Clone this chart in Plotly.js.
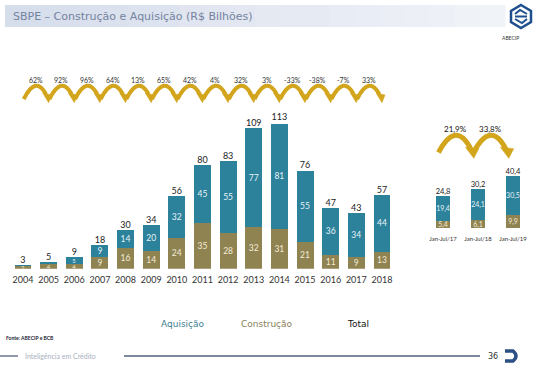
<!DOCTYPE html>
<html>
<head>
<meta charset="utf-8">
<script src="https://cdn.plot.ly/plotly-3.0.1.min.js"></script>
<style>html,body{margin:0;padding:0;background:#fff;}#chart{width:544px;height:369px;}</style>
</head>
<body>
<div id="chart"></div>
<script>
// ---- data ----
const years = [2004,2005,2006,2007,2008,2009,2010,2011,2012,2013,2014,2015,2016,2017,2018];
const aquisicao = [1,1,5,9,14,20,32,45,55,77,81,55,36,34,44];
const construcao = [2,4,4,9,16,14,24,35,28,32,31,21,11,9,13];
const totals = [3,5,9,18,30,34,56,80,83,109,113,76,47,43,57];
const growthLabels = ['62%','92%','96%','64%','13%','65%','42%','4%','32%','3%','-33%','-38%','-7%','33%'];

const ytdPeriods = ['Jan-Jul/17','Jan-Jul/18','Jan-Jul/19'];
const ytdAquisicao = [19.4,24.1,30.5];
const ytdConstrucao = [5.4,6.1,9.9];
const ytdTotals = [24.8,30.2,40.4];
const ytdGrowth = ['21,9%','33,8%'];

// ---- styles ----
const TEAL = '#2c819b';
const OLIVE = '#8f8352';
const GOLD = '#d2a51c';
const FONT = 'Lato, "Open Sans", sans-serif';
const fmt = v => v.toFixed(1).replace('.', ',');
const px = x => x / 544;
const py = y => 1 - y / 369;
const ytdIdx = ytdPeriods.map((_, i) => i);
const segSize = v => v < 6 ? 6 : 8.5;

const traces = [
  {type:'bar', x: years, y: construcao, name:'Construção', marker:{color:OLIVE}, width:0.66,
   text: construcao.map(String), textposition:'inside', insidetextanchor:'middle', constraintext:'none',
   textangle:0, textfont:{color:'#f3ecd6', size:construcao.map(segSize), family:FONT}, hoverinfo:'skip', xaxis:'x', yaxis:'y'},
  {type:'bar', x: years, y: aquisicao, name:'Aquisição', marker:{color:TEAL}, width:0.66,
   text: aquisicao.map(v => v >= 2 ? String(v) : ''), textposition:'inside', insidetextanchor:'middle', constraintext:'none',
   textangle:0, textfont:{color:'#e6f3f8', size:aquisicao.map(segSize), family:FONT}, hoverinfo:'skip', xaxis:'x', yaxis:'y'},
  {type:'scatter', mode:'text', x: years, y: totals, text: totals.map(String), textposition:'top center',
   textfont:{color:'#222', size:9, family:FONT}, hoverinfo:'skip', xaxis:'x', yaxis:'y'},
  {type:'bar', x: ytdIdx, y: ytdConstrucao, marker:{color:OLIVE}, width:0.42,
   text: ytdConstrucao.map(fmt), textposition:'inside', insidetextanchor:'middle', constraintext:'none',
   textangle:0, textfont:{color:'#f3ecd6', size:7, family:FONT}, hoverinfo:'skip', xaxis:'x2', yaxis:'y2'},
  {type:'bar', x: ytdIdx, y: ytdAquisicao, marker:{color:TEAL}, width:0.42,
   text: ytdAquisicao.map(fmt), textposition:'inside', insidetextanchor:'middle', constraintext:'none',
   textangle:0, textfont:{color:'#e6f3f8', size:7, family:FONT}, hoverinfo:'skip', xaxis:'x2', yaxis:'y2'},
  {type:'scatter', mode:'text', x: ytdIdx, y: ytdTotals, text: ytdTotals.map(fmt), textposition:'top center',
   textfont:{color:'#222', size:7.5, family:FONT}, hoverinfo:'skip', xaxis:'x2', yaxis:'y2'}
];

const shapes = [];
const annotations = [];

// title banner (gradient in slices)
const bx0 = 5, bx1 = 505, n = 20;
for (let i = 0; i < n; i++) {
  const t = i / (n - 1);
  const r = Math.round(214 + t * (240 - 214)), g = Math.round(221 + t * (243 - 221)), b = Math.round(235 + t * (248 - 235));
  shapes.push({type:'rect', xref:'paper', yref:'paper', x0:px(bx0 + (bx1-bx0)*i/n), x1:px(bx0 + (bx1-bx0)*(i+1)/n + 0.5),
    y0:py(27), y1:py(5), fillcolor:`rgb(${r},${g},${b})`, line:{width:0}, layer:'below'});
}
annotations.push({xref:'paper', yref:'paper', x:px(11), y:py(16), xanchor:'left', yanchor:'middle', showarrow:false,
  text:'SBPE – Construção e Aquisição (R$ Bilhões)', font:{family:'"DejaVu Sans", sans-serif', size:11, color:'#7483a0'}});

// logo
const lx = 521, ly = 16;
shapes.push({type:'path', xref:'paper', yref:'paper',
  path:`M ${px(lx)},${py(ly-11)} L ${px(lx+10)},${py(ly-5)} L ${px(lx+10)},${py(ly+6)} L ${px(lx)},${py(ly+12)} L ${px(lx-10)},${py(ly+6)} L ${px(lx-10)},${py(ly-5)} Z`,
  line:{color:'#1f4f8e', width:2.5}, fillcolor:'rgba(0,0,0,0)'});
shapes.push({type:'path', xref:'paper', yref:'paper',
  path:`M ${px(lx-6)},${py(ly-2)} L ${px(lx-1)},${py(ly-6)} L ${px(lx+6)},${py(ly-2)} M ${px(lx-6)},${py(ly+3)} L ${px(lx+1)},${py(ly+7)} L ${px(lx+6)},${py(ly+3)} M ${px(lx-6)},${py(ly+0.5)} L ${px(lx+6)},${py(ly+0.5)}`,
  line:{color:'#1f4f8e', width:2}});
annotations.push({xref:'paper', yref:'paper', x:px(lx), y:py(33), showarrow:false, text:'ABECIP',
  font:{family:FONT, size:5, color:'#333'}});

// growth arcs main chart
growthLabels.forEach((lab, i) => {
  const c = years[i] + 0.5;
  shapes.push({type:'path', xref:'x', yref:'y',
    path:`M ${c-0.47},131.3 Q ${c},150 ${c+0.40},135`, line:{color:GOLD, width:4}});
  shapes.push({type:'path', xref:'x', yref:'y',
    path:`M ${c+0.27},136 L ${c+0.62},134.5 L ${c+0.50},128.5 Z`, line:{color:GOLD, width:0.5}, fillcolor:GOLD});
  annotations.push({xref:'x', yref:'y', x:c, y:146, showarrow:false, text:lab,
    font:{family:FONT, size:7, color:'#333'}});
});

// growth arcs ytd chart
ytdGrowth.forEach((lab, i) => {
  const c = ytdIdx[i] + 0.42;
  shapes.push({type:'path', xref:'x2', yref:'y2',
    path:`M ${c-0.55},58.5 Q ${c-0.05},84 ${c+0.38},61`, line:{color:GOLD, width:5}});
  shapes.push({type:'path', xref:'x2', yref:'y2',
    path:`M ${c+0.22},62.5 L ${c+0.60},61.5 L ${c+0.46},54 Z`, line:{color:GOLD, width:0.5}, fillcolor:GOLD});
  annotations.push({xref:'x2', yref:'y2', x:c-0.07, y:76.5, showarrow:false, text:lab,
    font:{family:FONT, size:8, color:'#111'}});
});

// legend text
annotations.push({xref:'paper', yref:'paper', x:px(183), y:py(331), showarrow:false, text:'Aquisição',
  font:{family:'"DejaVu Sans", sans-serif', size:9, color:'#3f7f95'}});
annotations.push({xref:'paper', yref:'paper', x:px(267), y:py(331), showarrow:false, text:'Construção',
  font:{family:'"DejaVu Sans", sans-serif', size:9, color:'#8a8156'}});
annotations.push({xref:'paper', yref:'paper', x:px(371), y:py(331), showarrow:false, text:'Total',
  font:{family:'"DejaVu Sans", sans-serif', size:9, color:'#111'}});

// source & footer
annotations.push({xref:'paper', yref:'paper', x:px(4), y:py(343), xanchor:'left', showarrow:false, text:'<b>Fonte: ABECIP e BCB</b>',
  font:{family:FONT, size:5, color:'#223'}});
shapes.push({type:'line', xref:'paper', yref:'paper', x0:px(0), x1:px(18), y0:py(356), y1:py(356), line:{color:'#52627e', width:1.3}});
shapes.push({type:'line', xref:'paper', yref:'paper', x0:px(124), x1:px(480), y0:py(356), y1:py(356), line:{color:'#52627e', width:1.3}});
annotations.push({xref:'paper', yref:'paper', x:px(23), y:py(356), xanchor:'left', yanchor:'middle', showarrow:false, text:'Inteligência em Crédito',
  font:{family:FONT, size:7, color:'#a8b0c0'}});
annotations.push({xref:'paper', yref:'paper', x:px(486), y:py(356), xanchor:'left', yanchor:'middle', showarrow:false, text:'36',
  font:{family:'"DejaVu Sans", sans-serif', size:8, color:'#333'}});
shapes.push({type:'path', xref:'paper', yref:'paper',
  path:`M ${px(505)},${py(351)} L ${px(513)},${py(351)} Q ${px(519)},${py(356)} ${px(513)},${py(361)} L ${px(505)},${py(361)}`,
  line:{color:'#2c4f86', width:3.5}});

const layout = {
  width:544, height:369, margin:{l:0, r:0, t:0, b:0}, paper_bgcolor:'#fff', plot_bgcolor:'rgba(0,0,0,0)',
  barmode:'stack', showlegend:false, font:{family:FONT},
  xaxis:{domain:[0.0187, 0.7257], range:[2003.5, 2018.5], tickmode:'array', tickvals:years, ticktext:years.map(String),
    showgrid:false, zeroline:false, showline:false, ticks:'', ticklabelstandoff:4, tickfont:{size:9, color:'#333', family:FONT}, fixedrange:true},
  yaxis:{domain:[0.2718, 1], range:[0, 208], visible:false, fixedrange:true},
  xaxis2:{domain:[0.7822, 0.9752], range:[-0.5, 2.5], anchor:'y2', tickmode:'array', tickvals:ytdIdx, ticktext:ytdPeriods,
    showgrid:false, zeroline:false, showline:false, ticks:'', ticklabelstandoff:6, tickfont:{size:6, color:'#333', family:FONT}, fixedrange:true},
  yaxis2:{domain:[0.3821, 1], range:[0, 176.7], anchor:'x2', visible:false, fixedrange:true},
  shapes, annotations
};

Plotly.newPlot('chart', traces, layout, {displayModeBar:false, staticPlot:true});
</script>
</body>
</html>
